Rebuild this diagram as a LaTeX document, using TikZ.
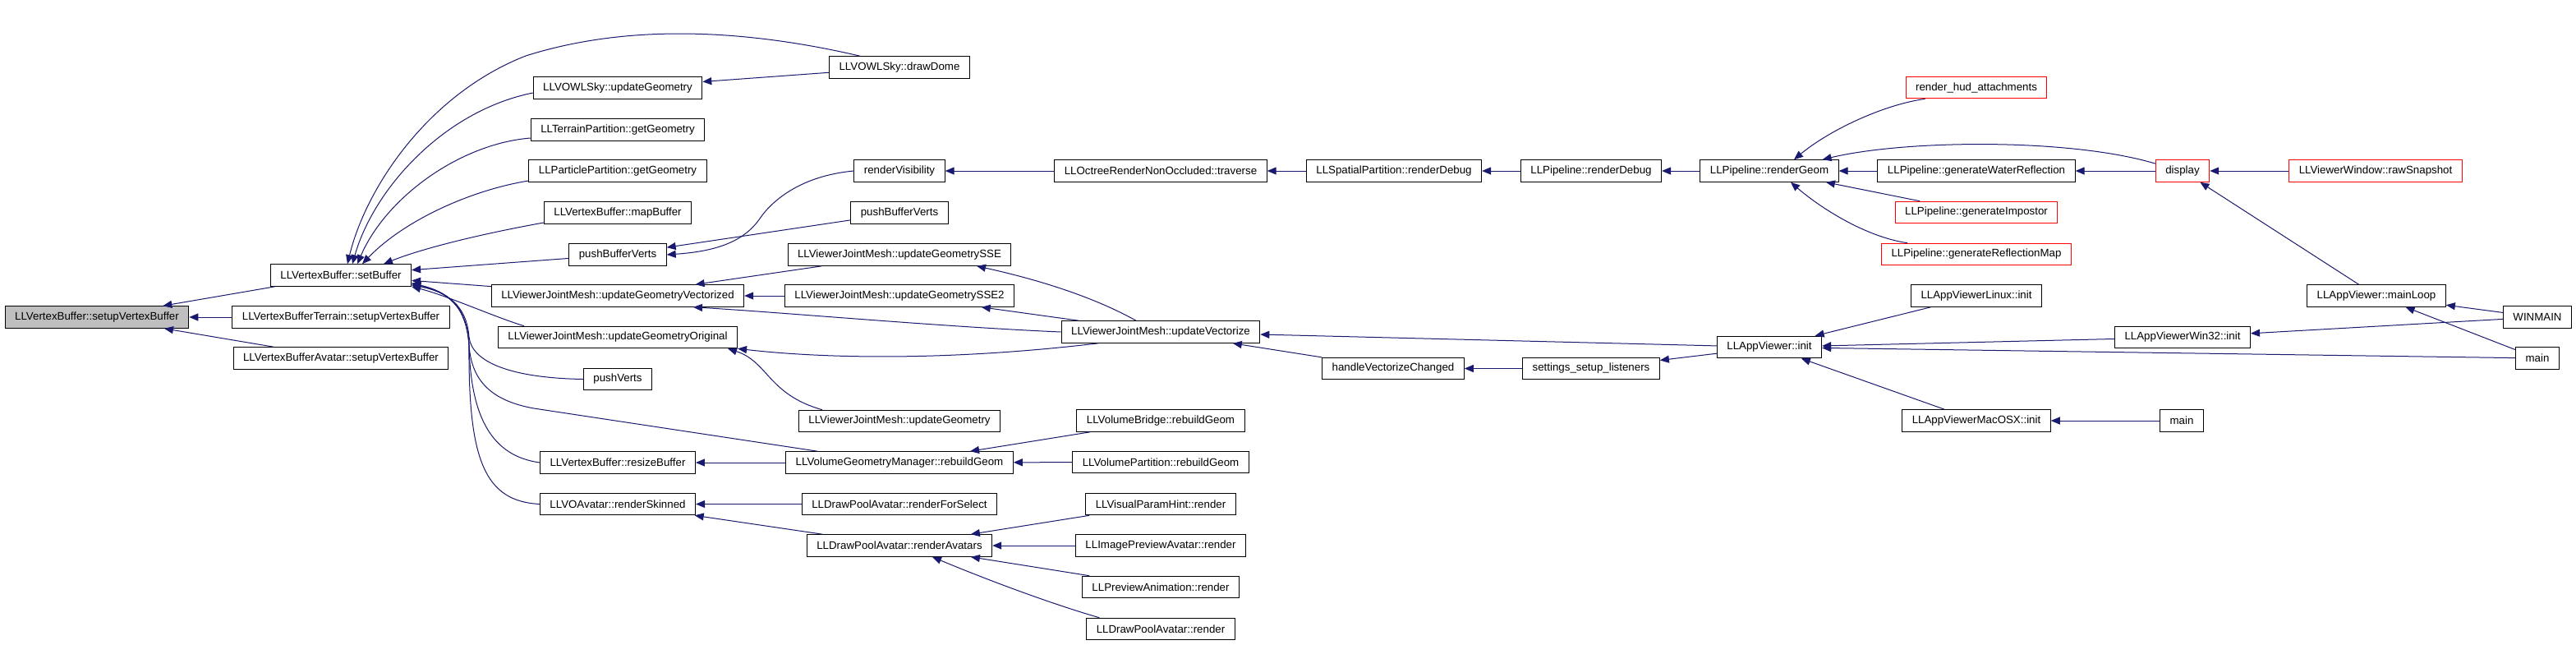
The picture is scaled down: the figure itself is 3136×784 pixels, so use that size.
\documentclass[tikz,border=0pt]{standalone}
\usepackage{fontspec}
\setmainfont{Liberation Sans}
\usetikzlibrary{arrows.meta}
\definecolor{edgeblue}{RGB}{25,25,112}

\begin{document}
\begin{tikzpicture}[x=0.5pt,y=-0.5pt,
    >={Triangle[length=5.5pt,width=4.5pt]},
    fn/.style={rectangle,draw=black,line width=0.5pt,fill=white,minimum height=13.3pt,inner ysep=0pt,inner xsep=6pt,font=\fontsize{6.65pt}{8pt}\selectfont},
    redfn/.style={fn,draw=red},
    cl/.style={draw=edgeblue,line width=0.5pt,<-}
  ]
  \useasboundingbox[fill=white] (0,0) rectangle (3136,784);

  \node[fn,fill=black!25] (svb) at (118,386) {LLVertexBuffer::setupVertexBuffer};
  \node[fn] (sb)   at (415,335) {LLVertexBuffer::setBuffer};
  \node[fn] (svbt) at (415,386) {LLVertexBufferTerrain::setupVertexBuffer};
  \node[fn] (svba) at (415,436) {LLVertexBufferAvatar::setupVertexBuffer};

  \node[fn] (skyug) at (752,107)   {LLVOWLSky::updateGeometry};
  \node[fn] (tpgg)  at (752,158)   {LLTerrainPartition::getGeometry};
  \node[fn] (ppgg)  at (752,208)   {LLParticlePartition::getGeometry};
  \node[fn] (mapb)  at (752,259)   {LLVertexBuffer::mapBuffer};
  \node[fn] (pbv)   at (752,310)   {pushBufferVerts};
  \node[fn] (ugv)   at (752,360)   {LLViewerJointMesh::updateGeometryVectorized};
  \node[fn] (ugo)   at (752,410.5) {LLViewerJointMesh::updateGeometryOriginal};
  \node[fn] (pv)    at (752,461.5) {pushVerts};
  \node[fn] (rsb)   at (752,563)   {LLVertexBuffer::resizeBuffer};
  \node[fn] (rsk)   at (752,613.5) {LLVOAvatar::renderSkinned};

  \node[fn] (dome) at (1095,82)    {LLVOWLSky::drawDome};
  \node[fn] (rvis) at (1095,208)   {renderVisibility};
  \node[fn] (pbv2) at (1095,259)   {pushBufferVerts};
  \node[fn] (sse)  at (1095,310)   {LLViewerJointMesh::updateGeometrySSE};
  \node[fn] (sse2) at (1095,360)   {LLViewerJointMesh::updateGeometrySSE2};
  \node[fn] (jmug) at (1095,512.5) {LLViewerJointMesh::updateGeometry};
  \node[fn] (vgm)  at (1095,563)   {LLVolumeGeometryManager::rebuildGeom};
  \node[fn] (rfs)  at (1095,613.5) {LLDrawPoolAvatar::renderForSelect};
  \node[fn] (ravs) at (1095,664)   {LLDrawPoolAvatar::renderAvatars};

  \node[fn] (trav)  at (1413,208)   {LLOctreeRenderNonOccluded::traverse};
  \node[fn] (uvec)  at (1413,404)   {LLViewerJointMesh::updateVectorize};
  \node[fn] (vbrg)  at (1413,512)   {LLVolumeBridge::rebuildGeom};
  \node[fn] (vpart) at (1413,562.5) {LLVolumePartition::rebuildGeom};
  \node[fn] (vph)   at (1413,613.5) {LLVisualParamHint::render};
  \node[fn] (ipa)   at (1413,664)   {LLImagePreviewAvatar::render};
  \node[fn] (pan)   at (1413,714.5) {LLPreviewAnimation::render};
  \node[fn] (dpr)   at (1413,765.5) {LLDrawPoolAvatar::render};

  \node[fn] (sprd) at (1697,208)   {LLSpatialPartition::renderDebug};
  \node[fn] (hvc)  at (1696,448.5) {handleVectorizeChanged};
  \node[fn] (prd)  at (1937,208)   {LLPipeline::renderDebug};
  \node[fn] (ssl)  at (1937,448.5) {settings\_setup\_listeners};
  \node[fn] (rg)   at (2154,208)   {LLPipeline::renderGeom};
  \node[fn] (avi)  at (2154,422.5) {LLAppViewer::init};

  \node[redfn] (hud)  at (2406,106.5) {render\_hud\_attachments};
  \node[fn]    (gwr)  at (2406,208)   {LLPipeline::generateWaterReflection};
  \node[redfn] (gimp) at (2406,258.5) {LLPipeline::generateImpostor};
  \node[redfn] (grm)  at (2406,309.5) {LLPipeline::generateReflectionMap};
  \node[fn]    (lnx)  at (2406,360)   {LLAppViewerLinux::init};
  \node[fn]    (mac)  at (2406,512)   {LLAppViewerMacOSX::init};

  \node[redfn] (disp)  at (2657,208)   {display};
  \node[fn]    (w32)   at (2657,410.5) {LLAppViewerWin32::init};
  \node[fn]    (mmac)  at (2656,512)   {main};
  \node[redfn] (raw)   at (2892,208)   {LLViewerWindow::rawSnapshot};
  \node[fn]    (mloop) at (2893,360)   {LLAppViewer::mainLoop};
  \node[fn]    (winm)  at (3089,386)   {WINMAIN};
  \node[fn]    (mmain) at (3089,436)   {main};

  \draw[cl] (svb) -- (sb);
  \draw[cl] (svb) -- (svbt);
  \draw[cl] (svb) -- (svba);
  \draw[cl] ([xshift=4pt]sb.north) .. controls (445,230) and (520,115) .. (640,68) .. controls (760,30) and (900,34) .. ([xshift=-24pt]dome.north);
  \draw[cl] ([xshift=7pt]sb.north) .. controls (455,230) and (540,135) .. ([yshift=-3pt]skyug.west);
  \draw[cl] ([xshift=10pt]sb.north) .. controls (470,240) and (560,175) .. ([yshift=-5pt]tpgg.west);
  \draw[cl] ([xshift=13pt]sb.north) .. controls (490,270) and (570,232) .. ([yshift=-6pt]ppgg.west);
  \draw[cl] ([xshift=26pt]sb.north) .. controls (520,300) and (600,282) .. ([yshift=-6pt]mapb.west);
  \draw[cl] (sb) -- (pbv);
  \draw[cl] (sb) -- (ugv);
  \draw[cl] (sb.south east) .. controls (545,360) and (600,385) .. ([xshift=16pt]ugo.north west);
  \draw[cl] ([yshift=1pt]sb.south east) .. controls (545,355) and (568,372) .. (571,410) .. controls (574,440) and (620,460) .. (pv.west);
  \draw[cl] ([yshift=1pt]sb.south east) .. controls (545,355) and (568,372) .. (571,420) .. controls (574,465) and (600,488) .. (650,497) -- ([xshift=19.5pt]vgm.north west);
  \draw[cl] ([yshift=2pt]sb.south east) .. controls (545,355) and (568,372) .. (571,420) .. controls (573,510) and (600,555) .. (rsb.west);
  \draw[cl] ([yshift=2pt]sb.south east) .. controls (545,355) and (568,372) .. (571,420) .. controls (570,560) and (590,610) .. (rsk.west);

  \draw[cl] (skyug) -- (dome);
  \draw[cl] (pbv.east) .. controls (870,306) and (905,295) .. (925,266) .. controls (940,244) and (975,214) .. (rvis.west);
  \draw[cl] (pbv) -- (pbv2);
  \draw[cl] (rvis) -- (trav);
  \draw[cl] (trav) -- (sprd);
  \draw[cl] (sprd) -- (prd);
  \draw[cl] (prd) -- (rg);
  \draw[cl] ([xshift=15pt]rg.north) .. controls (2225,160) and (2290,128) .. ([xshift=12pt]hud.south west);
  \draw[cl] ([xshift=-10pt]rg.north east) .. controls (2320,170) and (2520,168) .. (disp.165);
  \draw[cl] (rg) -- (gwr);
  \draw[cl] (rg) -- (gimp);
  \draw[cl] ([xshift=13pt]rg.south) .. controls (2215,252) and (2270,288) .. ([xshift=16pt]grm.north west);
  \draw[cl] (gwr) -- (disp);
  \draw[cl] (disp) -- (raw);
  \draw[cl] (disp) -- (mloop);
  \draw[cl] (mloop) -- (winm);
  \draw[cl] (mloop) -- (mmain);
  \draw[cl] (w32) -- (winm);
  \draw[cl] (avi) -- (w32);
  \draw[cl] (avi) -- (mmain);
  \draw[cl] (avi) -- (lnx);
  \draw[cl] (avi) -- (mac);
  \draw[cl] (mac) -- (mmac);
  \draw[cl] (ssl) -- (avi);
  \draw[cl] (uvec) -- (avi);
  \draw[cl] (hvc) -- (ssl);
  \draw[cl] (uvec) -- (hvc);

  \draw[cl] ([xshift=47pt]sse.south) .. controls (1240,335) and (1320,355) .. ([xshift=-15pt]uvec.north);
  \draw[cl] (sse2) -- (uvec);
  \draw[cl] ([xshift=46pt]ugv.south) .. controls (950,380) and (1150,398) .. (uvec.west);
  \draw[cl] (ugo.south east) .. controls (1000,436) and (1150,440) .. ([xshift=-38pt]uvec.south);
  \draw[cl] (ugv) -- (sse);
  \draw[cl] (ugv) -- (sse2);
  \draw[cl] ([xshift=-6pt]ugo.south east) .. controls (935,440) and (935,480) .. ([xshift=14.5pt]jmug.north west);
  \draw[cl] (rsb) -- (vgm);
  \draw[cl] (vgm) -- (vbrg);
  \draw[cl] (vgm) -- (vpart);
  \draw[cl] (rsk) -- (rfs);
  \draw[cl] (rsk) -- (ravs);
  \draw[cl] (ravs) -- (vph);
  \draw[cl] (ravs) -- (ipa);
  \draw[cl] (ravs) -- (pan);
  \draw[cl] ([xshift=20pt]ravs.south) .. controls (1200,705) and (1280,735) .. ([xshift=8pt]dpr.north west);
\end{tikzpicture}
\end{document}
